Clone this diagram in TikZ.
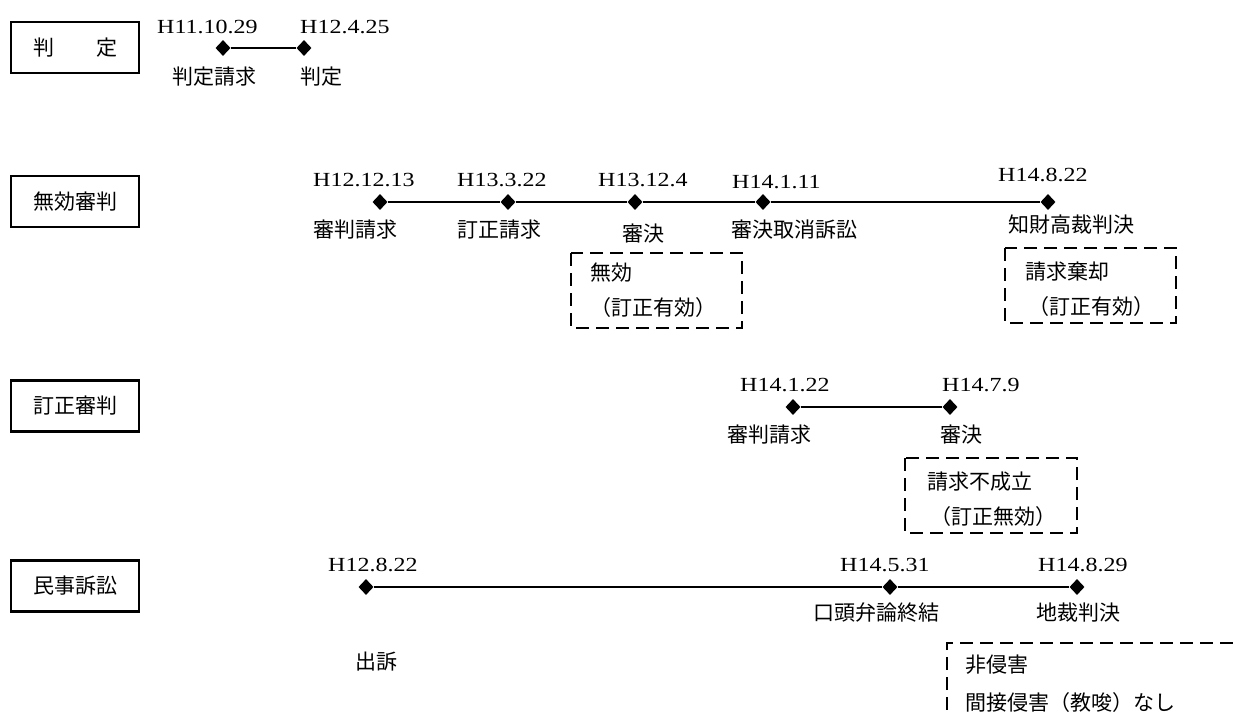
\documentclass[tikz,border=0pt]{standalone}
\usepackage{fontspec}
\usetikzlibrary{shapes.geometric}
\newfontfamily\cjk{Noto Sans CJK JP}
\newfontfamily\datefont[FakeStretch=1.2]{Liberation Serif}
\begin{document}
\begin{tikzpicture}[x=1pt,y=-1pt,
  catbox/.style={draw, line width=2.2pt, minimum width=128pt, minimum height=51pt, inner sep=0pt, font=\cjk\fontsize{21}{25}\selectfont},
  dot/.style={diamond, fill=black, inner sep=0pt, minimum width=15pt, minimum height=16pt},
  tl/.style={line width=1.8pt},
  datetxt/.style={anchor=west, inner sep=0pt, font=\datefont\fontsize{20}{24}\selectfont},
  lbl/.style={anchor=west, inner sep=0pt, font=\cjk\fontsize{21}{25}\selectfont},
  dashbox/.style={line width=2.2pt, dash pattern=on 13pt off 7pt}
]
\useasboundingbox (0,0) rectangle (1234,714);
\fill[white] (0,0) rectangle (1234,714);

% category boxes
\node[catbox] (c1) at (75,47.5) {判　　定};
\node[catbox] (c2) at (75,201.5) {無効審判};
\node[catbox] (c3) at (75,406) {訂正審判};
\node[catbox] (c4) at (75,586) {民事訴訟};

% row 1
\node[dot] (a1) at (223,48) {};
\node[dot] (a2) at (304,48) {};
\draw[tl] (a1) -- (a2);
\node[datetxt] (ad1) at (157,27) {H11.10.29};
\node[datetxt] (ad2) at (300,27) {H12.4.25};
\node[lbl] (al1) at (172,77) {判定請求};
\node[lbl] (al2) at (300,77) {判定};

% row 2
\node[dot] (b1) at (380,202) {};
\node[dot] (b2) at (508,202) {};
\node[dot] (b3) at (635,202) {};
\node[dot] (b4) at (763,202) {};
\node[dot] (b5) at (1048,202) {};
\draw[tl] (b1) -- (b2) -- (b3) -- (b4) -- (b5);
\node[datetxt] (bd1) at (313,180) {H12.12.13};
\node[datetxt] (bd2) at (457,180) {H13.3.22};
\node[datetxt] (bd3) at (598,180) {H13.12.4};
\node[datetxt] (bd4) at (732,182) {H14.1.11};
\node[datetxt] (bd5) at (998,175) {H14.8.22};
\node[lbl] (bl1) at (313,230) {審判請求};
\node[lbl] (bl2) at (457,230) {訂正請求};
\node[lbl] (bl3) at (622,234) {審決};
\node[lbl] (bl4) at (731,230) {審決取消訴訟};
\node[lbl] (bl5) at (1008,225) {知財高裁判決};
\draw[dashbox] (571,253) rectangle (742,328);
\node[lbl] (bx1a) at (590,273) {無効};
\node[lbl] (bx1b) at (590,308) {（訂正有効）};
\draw[dashbox] (1005,248) rectangle (1176,323);
\node[lbl] (bx2a) at (1025,272) {請求棄却};
\node[lbl] (bx2b) at (1028,307) {（訂正有効）};

% row 3
\node[dot] (d1) at (793,407) {};
\node[dot] (d2) at (950,407) {};
\draw[tl] (d1) -- (d2);
\node[datetxt] (dd1) at (740,385) {H14.1.22};
\node[datetxt] (dd2) at (942,385) {H14.7.9};
\node[lbl] (dl1) at (727,435) {審判請求};
\node[lbl] (dl2) at (940,435) {審決};
\draw[dashbox] (905,458) rectangle (1077,533);
\node[lbl] (dx1a) at (927,482) {請求不成立};
\node[lbl] (dx1b) at (930,517) {（訂正無効）};

% row 4
\node[dot] (e1) at (366,587) {};
\node[dot] (e2) at (890,587) {};
\node[dot] (e3) at (1077,587) {};
\draw[tl] (e1) -- (e2) -- (e3);
\node[datetxt] (ed1) at (328,565) {H12.8.22};
\node[datetxt] (ed2) at (840,565) {H14.5.31};
\node[datetxt] (ed3) at (1038,565) {H14.8.29};
\node[lbl] (el2) at (813,613) {口頭弁論終結};
\node[lbl] (el3) at (1036,613) {地裁判決};
\node[lbl] (el1) at (355,662) {出訴};
\draw[dashbox] (947,730) -- (947,643) -- (1240,643);
\node[lbl] (ex1a) at (965,665) {非侵害};
\node[lbl] (ex1b) at (965,703) {間接侵害（教唆）なし};
\end{tikzpicture}
\end{document}
